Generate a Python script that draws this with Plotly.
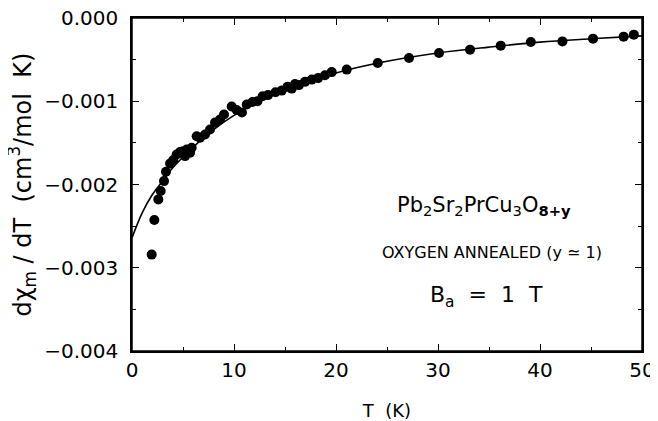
import plotly.graph_objects as go

# Measured data points: temperature (K) and dChi_m/dT (cm^3/mol K)
T_data = [1.93, 2.19, 2.58, 2.81, 3.14, 3.33, 3.73, 4.05, 4.38, 4.71, 5.03, 5.20, 5.36, 5.69,
          5.85, 6.34, 6.67, 7.16, 7.65, 8.14, 8.63, 9.02, 9.77, 10.26, 10.78, 11.25, 11.81,
          12.30, 12.80, 13.33, 14.07, 14.68, 15.25, 15.66, 15.98, 16.37, 16.96, 17.62, 18.24,
          18.92, 19.58, 21.05, 24.09, 27.16, 30.10, 33.14, 36.15, 39.10, 42.20, 45.20, 48.20, 49.20]
dchi_data = [-2.842, -2.427, -2.179, -2.079, -1.959, -1.847, -1.747, -1.707, -1.639, -1.611,
             -1.600, -1.659, -1.579, -1.619, -1.559, -1.420, -1.439, -1.399, -1.339, -1.255,
             -1.220, -1.160, -1.064, -1.106, -1.136, -1.040, -1.010, -1.000, -0.940, -0.926,
             -0.892, -0.872, -0.827, -0.848, -0.794, -0.806, -0.767, -0.740, -0.722, -0.688,
             -0.650, -0.620, -0.540, -0.480, -0.420, -0.380, -0.332, -0.288, -0.281, -0.248,
             -0.224, -0.200]
dchi_data = [v * 1e-3 for v in dchi_data]

# Fitted curve
T_fit = [0, 1, 2, 3, 4, 5, 6, 8, 10, 12, 15, 20, 25, 30, 35, 40, 45, 50]
dchi_fit = [-2.64, -2.34, -2.12, -1.96, -1.80, -1.67, -1.55, -1.34, -1.17, -1.03, -0.87,
            -0.66, -0.52, -0.42, -0.35, -0.29, -0.25, -0.215]
dchi_fit = [v * 1e-3 for v in dchi_fit]

x_ticks = [0, 10, 20, 30, 40, 50]
y_ticks = [0.000, -0.001, -0.002, -0.003, -0.004]

FONT = "DejaVu Sans"

fig = go.Figure()
fig.add_trace(go.Scatter(x=T_fit, y=dchi_fit, mode="lines", line=dict(color="black", width=1.6, shape="spline"),
                         hoverinfo="skip", showlegend=False))
fig.add_trace(go.Scatter(x=T_data, y=dchi_data, mode="markers",
                         marker=dict(color="black", size=10, line=dict(width=0)), showlegend=False))

axis_common = dict(showline=True, linecolor="black", linewidth=1.5, mirror="ticks",
                   ticks="inside", tickcolor="black", tickwidth=1.3, ticklen=7,
                   showgrid=False, zeroline=False, automargin=False, ticklabeloverflow="allow",
                   tickfont=dict(family=FONT, size=20, color="black"))

fig.update_xaxes(range=[0, 50], tickvals=x_ticks, ticktext=[str(v) for v in x_ticks],
                 minor=dict(ticks="inside", dtick=5, ticklen=4, tickcolor="black", tickwidth=1.3),
                 title=dict(text="T  (K)", font=dict(family=FONT, size=18, color="black"), standoff=24),
                 **axis_common)
fig.update_yaxes(range=[-0.004, 0], tickvals=y_ticks, tickformat=".3f",
                 minor=dict(ticks="inside", dtick=0.0005, ticklen=4, tickcolor="black", tickwidth=1.3),
                 ticklabelstandoff=8,
                 **axis_common)

# frame around the plot area
fig.add_shape(type="rect", xref="paper", yref="paper", x0=0, x1=1, y0=0, y1=1,
              line=dict(color="black", width=1.5), fillcolor="rgba(0,0,0,0)", layer="above")

# y-axis title as rotated annotation
fig.add_annotation(x=-0.2157, y=0.5, xref="paper", yref="paper", textangle=-90,
                   xanchor="center", yanchor="middle",
                   text="dχ<sub>m</sub> / dT  (cm<sup>3</sup>/mol  K)",
                   showarrow=False, font=dict(family=FONT, size=24, color="black"))

fig.add_annotation(x=34.5, y=-0.00226, xref="x", yref="y", xanchor="center", yanchor="middle",
                   text="Pb<sub>2</sub>Sr<sub>2</sub>PrCu<sub>3</sub>O<sub><b>8+y</b></sub>",
                   showarrow=False, font=dict(family=FONT, size=21, color="black"))
fig.add_annotation(x=35.3, y=-0.002814, xref="x", yref="y", xanchor="center", yanchor="middle",
                   text="OXYGEN ANNEALED (y ≃ 1)",
                   showarrow=False, font=dict(family=FONT, size=16, color="black"))
fig.add_annotation(x=34.8, y=-0.00334, xref="x", yref="y", xanchor="center", yanchor="middle",
                   text="B<sub>a</sub>  =  1  T",
                   showarrow=False, font=dict(family=FONT, size=22, color="black"))

# The page body adds an 8px offset; compensate so the plot area lands at 132..642 x 18..351
fig.update_layout(width=650, height=413, margin=dict(l=124, r=16, t=10, b=70),
                  paper_bgcolor="white", plot_bgcolor="white", showlegend=False)

fig.write_html("out.html")
